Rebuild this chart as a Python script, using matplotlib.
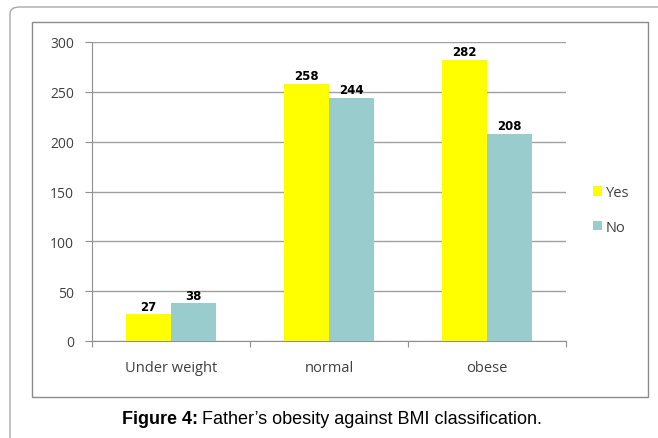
import matplotlib.pyplot as plt
from matplotlib.patches import FancyBboxPatch, Rectangle

# BMI groups and counts of father's obesity answers
categories = ["Under weight", "normal", "obese"]
yes_counts = [27, 258, 282]
no_counts = [38, 244, 208]

W, H = 658, 439
fig = plt.figure(figsize=(W / 100, H / 100), dpi=100)

def fx(px):
    return px / W

def fy(py):
    return 1 - py / H

# outer rounded frame (runs off the right and bottom edges)
fig.patches.append(FancyBboxPatch((fx(10), fy(470)), fx(700), fy(8) - fy(470),
                                  boxstyle="round,pad=0,rounding_size=0.015",
                                  transform=fig.transFigure, fill=False,
                                  edgecolor="#a8a8a8", linewidth=1.0))
# chart frame
fig.patches.append(Rectangle((fx(32), fy(398)), fx(648) - fx(32), fy(23) - fy(398),
                             transform=fig.transFigure, fill=False,
                             edgecolor="#8c8c8c", linewidth=1.0))

ax = fig.add_axes([fx(92), fy(342), fx(566) - fx(92), fy(43) - fy(342)])

x = list(range(len(categories)))
bw = 0.285
bars_yes = ax.bar([i - bw / 2 for i in x], yes_counts, bw, color="#ffff00", label="Yes", zorder=3)
bars_no = ax.bar([i + bw / 2 for i in x], no_counts, bw, color="#99cccc", label="No", zorder=3)

for bars, vals in ((bars_yes, yes_counts), (bars_no, no_counts)):
    for b, v in zip(bars, vals):
        ax.text(b.get_x() + b.get_width() / 2, v + 1.5, str(v), ha="center", va="bottom",
                fontsize=8.5, fontweight="bold", color="black", family="DejaVu Sans", zorder=4)

ax.set_xlim(-0.5, 2.5)
ax.set_ylim(0, 300)
ax.set_yticks(range(0, 301, 50))
ax.yaxis.grid(True, color="#a0a0a0", linewidth=1.0, zorder=0)
ax.set_axisbelow(True)

ax.set_xticks([-0.5, 0.5, 1.5, 2.5])
ax.set_xticklabels([])
ax.set_xticks(x, minor=True)
ax.set_xticklabels(categories, minor=True, fontsize=10.5, color="#404040", family="Open Sans")
ax.tick_params(axis="x", which="major", length=4, color="#909090", direction="out")
ax.tick_params(axis="x", which="minor", length=0, pad=14)
ax.tick_params(axis="y", length=5, color="#909090", labelsize=10, labelcolor="#404040", pad=8)
for lbl in ax.get_yticklabels():
    lbl.set_family("Open Sans")

for s in ("top", "right"):
    ax.spines[s].set_visible(False)
for s in ("left", "bottom"):
    ax.spines[s].set_color("#909090")

leg = fig.legend(handles=[bars_yes, bars_no], labels=["Yes", "No"], loc="center left",
                 bbox_to_anchor=(fx(580), fy(211)), frameon=False,
                 handlelength=0.6, handleheight=0.6, handletextpad=0.25, labelspacing=1.35,
                 prop={"family": "Open Sans", "size": 10.5})
for t in leg.get_texts():
    t.set_color("#404040")

# caption: bold lead followed by regular text
bold = fig.text(fx(122), fy(420), "Figure 4:", ha="left", va="center", fontsize=13,
                fontweight="bold", family="Liberation Sans")
fig.canvas.draw()
ext = bold.get_window_extent()
fig.text(ext.x1 / W + fx(4), fy(420), "Father’s obesity against BMI classification.",
         ha="left", va="center", fontsize=13, family="Liberation Sans")

fig.savefig("out.png", dpi=100)
